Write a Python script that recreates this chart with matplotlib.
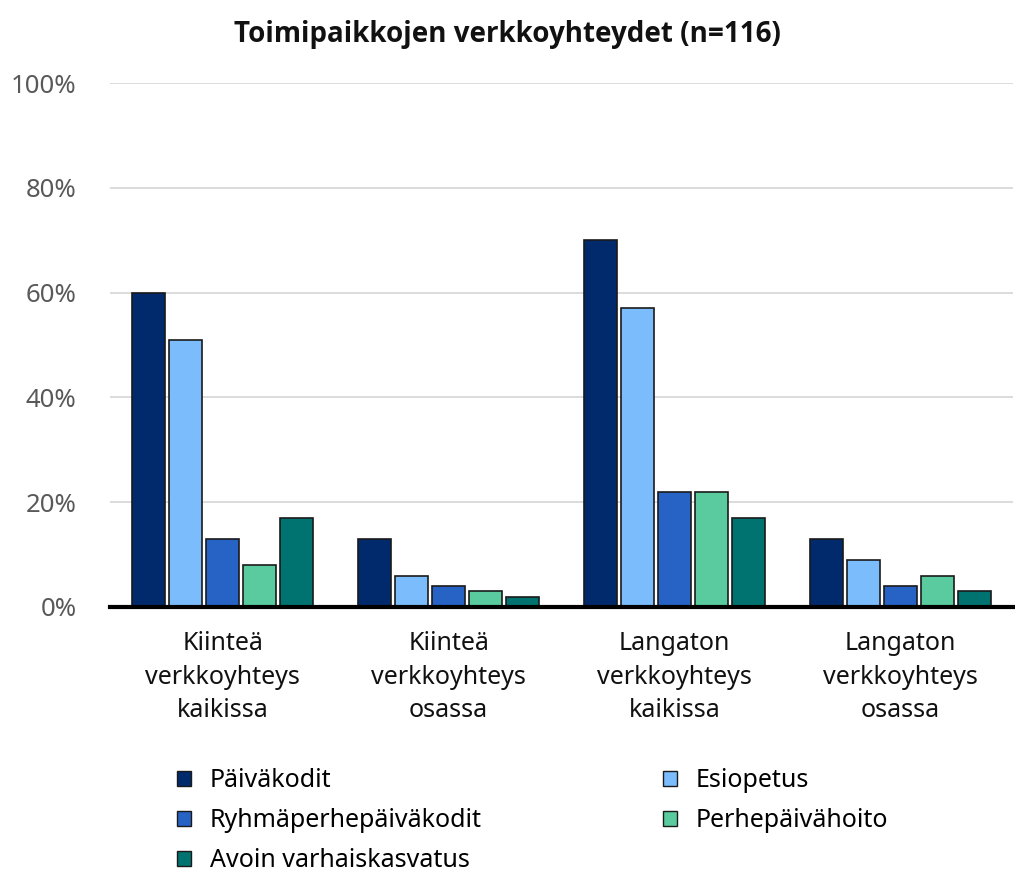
import matplotlib
matplotlib.use("Agg")
import matplotlib.pyplot as plt
from matplotlib.patches import Patch
import numpy as np

plt.rcParams['font.family'] = ['Noto Sans', 'DejaVu Sans']

categories = ["Kiinteä\nverkkoyhteys\nkaikissa", "Kiinteä\nverkkoyhteys\nosassa",
              "Langaton\nverkkoyhteys\nkaikissa", "Langaton\nverkkoyhteys\nosassa"]
series_names = ["Päiväkodit", "Esiopetus", "Ryhmäperhepäiväkodit", "Perhepäivähoito", "Avoin varhaiskasvatus"]
paivakodit = [60, 13, 70, 13]
esiopetus = [51, 6, 57, 9]
ryhmaperhe = [13, 4, 22, 4]
perhepaiva = [8, 3, 22, 6]
avoin = [17, 2, 17, 3]
series_values = [paivakodit, esiopetus, ryhmaperhe, perhepaiva, avoin]
colors = ["#002a6b", "#7bbcfd", "#2663c4", "#5acb9f", "#00726f"]
yticks = [0, 20, 40, 60, 80, 100]

fig = plt.figure(figsize=(10.15, 8.74), dpi=100)
ax = fig.add_axes([0.1084, 0.3055, 0.8896, 0.5995])

x = np.arange(len(categories))
step = 0.164
width = 0.146
for i, (vals, c) in enumerate(zip(series_values, colors)):
    ax.bar(x + (i - 2) * step, vals, width, color=c, edgecolor="#1a1a1a", linewidth=1.2, zorder=3)

ax.set_xlim(-0.5, 3.5)
ax.set_ylim(0, 100)
ax.set_yticks(yticks)
ax.set_yticklabels([f"{t}%" for t in yticks], fontsize=18.5, color="#595959")
ax.yaxis.grid(True, color="#d9d9d9", linewidth=1.3, zorder=0)
ax.tick_params(axis="y", length=0, pad=24)
ax.set_xticks(x)
ax.set_xticklabels(categories, fontsize=18, color="#111111", linespacing=1.47)
ax.tick_params(axis="x", length=0, pad=17)
for s in ["top", "right", "left"]:
    ax.spines[s].set_visible(False)
ax.spines["bottom"].set_linewidth(3)
ax.spines["bottom"].set_color("black")
ax.spines["bottom"].set_zorder(4)

fig.text(0.5, 0.961, "Toimipaikkojen verkkoyhteydet (n=116)", ha="center", va="center",
         fontsize=20, fontweight="bold", color="#111111", family=["Open Sans", "DejaVu Sans"])

handles = [Patch(facecolor=c, edgecolor="#1a1a1a", linewidth=1.0) for c in colors]
order = [0, 2, 4, 1, 3]
leg = fig.legend([handles[i] for i in order], [series_names[i] for i in order],
                 ncol=2, loc="upper left", bbox_to_anchor=(0.165, 0.1325),
                 frameon=False, fontsize=18, handlelength=0.55, handleheight=0.55,
                 handletextpad=0.75, labelspacing=0.6, columnspacing=7.25, borderaxespad=0)

fig.savefig("out.png", dpi=100)
